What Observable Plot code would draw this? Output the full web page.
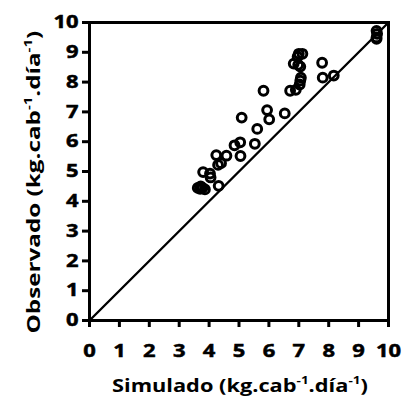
<!DOCTYPE html>
<html>
<head>
<meta charset="utf-8">
<script src="https://cdn.jsdelivr.net/npm/d3@7"></script>
<script src="https://cdn.jsdelivr.net/npm/@observablehq/plot@0.6"></script>
<style>
  html, body { margin: 0; padding: 0; background: #fff; }
</style>
</head>
<body>
<div id="chart"></div>
<script>
const simulado = [3.62, 3.70, 3.78, 3.86, 3.72, 4.32, 3.80, 4.03, 4.05, 4.30, 4.40, 4.24, 4.58, 4.85, 5.04, 5.05, 5.53, 5.61, 5.09, 5.94, 6.01, 6.53, 5.82, 6.71, 6.90, 7.03, 7.05, 7.07, 6.83, 6.98, 7.05, 6.96, 7.00, 7.12, 7.78, 7.80, 8.17, 9.60, 9.62, 9.60, 9.60];
const observado = [4.45, 4.42, 4.45, 4.40, 4.50, 4.52, 4.98, 4.93, 4.80, 5.22, 5.28, 5.55, 5.53, 5.88, 5.98, 5.52, 5.93, 6.43, 6.81, 7.06, 6.75, 6.95, 7.71, 7.71, 7.74, 7.92, 8.05, 8.15, 8.62, 8.58, 8.52, 8.85, 8.95, 8.95, 8.65, 8.15, 8.22, 9.72, 9.62, 9.50, 9.45];
const axisTicks = [0, 1, 2, 3, 4, 5, 6, 7, 8, 9, 10];
const identityLine = [0, 10];
const xTitle = ["Simulado (kg.cab", "-1", ".día", "-1", ")"];
const yTitle = ["Observado (kg.cab", "-1", ".día", "-1", ")"];

const points = simulado.map((s, i) => ({s, o: observado[i]}));

const chart = Plot.plot({
  width: 402,
  height: 398,
  marginLeft: 89,
  marginRight: 14,
  marginTop: 22,
  marginBottom: 78,
  x: {domain: [0, 10]},
  y: {domain: [0, 10]},
  style: {fontFamily: "'Open Sans', sans-serif", fontWeight: "bold", fontSize: "18px"},
  marks: [
    Plot.axisX({ticks: axisTicks, tickSize: 7, tickPadding: 17, fontSize: 18, fontWeight: "bold", label: null, strokeWidth: 3}),
    Plot.axisY({ticks: axisTicks, tickSize: 7, tickPadding: 4, fontSize: 18, fontWeight: "bold", label: null, strokeWidth: 3}),
    Plot.line(identityLine, {x: d => d, y: d => d, stroke: "black", strokeWidth: 2.4}),
    Plot.dot(points, {x: "s", y: "o", r: 4.4, stroke: "black", strokeWidth: 3, fill: "none"}),
    Plot.frame({stroke: "black", strokeWidth: 3})
  ]
});

document.getElementById("chart").appendChild(chart);
d3.select(chart).selectAll("g[aria-label$='tick label'] text")
  .attr("stroke", "black")
  .attr("stroke-width", 0.5)
  .each(function() {
    this.setAttribute("transform", (this.getAttribute("transform") || "") + " scale(1.22,1)");
  });

function addTitle(svg, parts, cx, baseline, rotate, size, targetLen) {
  const g = d3.select(svg).append("g")
    .attr("transform", `translate(${cx},${baseline})` + (rotate ? " rotate(-90)" : ""));
  const t = g.append("text")
    .attr("text-anchor", "start")
    .style("font-family", "'Open Sans', sans-serif")
    .style("font-weight", "bold")
    .style("font-size", size + "px")
    .attr("fill", "black");
  const shift = size * 0.42;
  parts.forEach((p, i) => {
    const sup = i % 2 === 1;
    t.append("tspan")
      .attr("dy", sup ? -shift : (i > 0 ? shift : 0))
      .style("font-size", sup ? (size * 0.62) + "px" : null)
      .text(p);
  });
  const w = t.node().getBBox().width;
  const k = targetLen / w;
  t.attr("transform", `scale(${k},1) translate(${-w / 2},0)`);
}
addTitle(chart, xTitle, 240, 392, false, 18, 256);
addTitle(chart, yTitle, 40, 182, true, 18, 303);
</script>
</body>
</html>
